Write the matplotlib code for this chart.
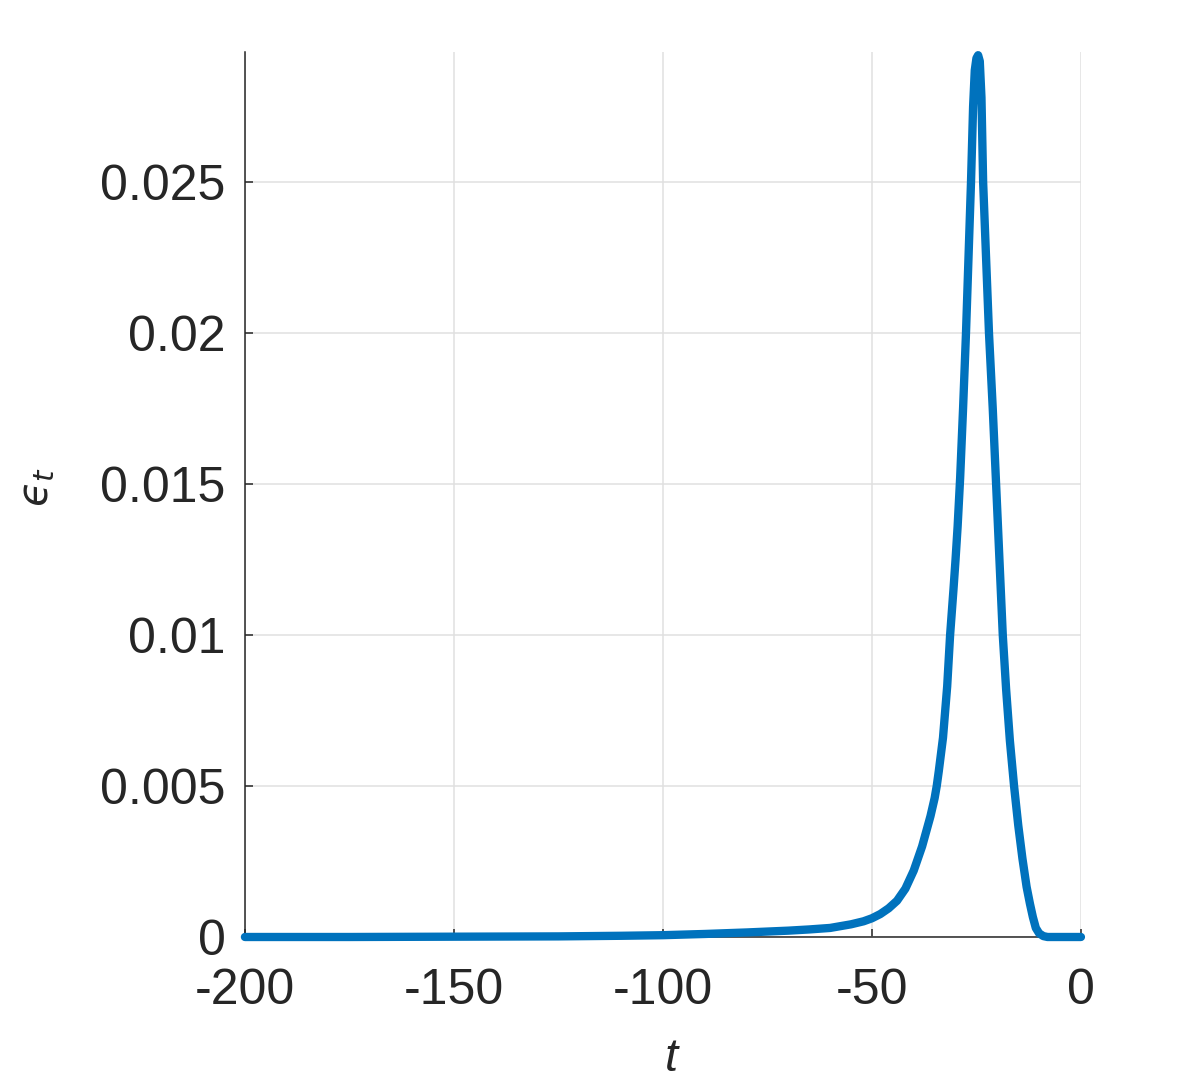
import matplotlib
matplotlib.use('Agg')
import matplotlib.pyplot as plt

# values
t = [-200, -175, -150, -125, -110, -100, -90, -80, -70, -65, -60, -55, -52, -50,
     -48, -46, -44, -42, -41, -40, -39, -38, -37, -36, -35, -34.5, -34, -33, -32,
     -31.3, -30.5, -30, -29.5, -28.9, -28.2, -27.5, -26.9, -26.3, -25.8, -25.4,
     -25.0, -24.6, -24.2, -23.8, -23.4, -22.7, -22.0, -21.1, -20.3, -19.5, -18.7,
     -17.9, -17, -16, -15, -14, -13, -12.2, -11.5, -10.8, -10, -9, -8, -5, 0]
eps = [0, 0, 0.00001, 0.00002, 0.00004, 0.00006, 0.0001, 0.00015, 0.00021, 0.00025,
       0.0003, 0.00042, 0.00052, 0.00062, 0.00076, 0.00095, 0.0012, 0.0016, 0.0019,
       0.0022, 0.0026, 0.0030, 0.0035, 0.0040, 0.0046, 0.0050, 0.0055, 0.0066,
       0.0083, 0.0100, 0.0115, 0.0125, 0.0136, 0.0152, 0.0175, 0.0200, 0.0225,
       0.0250, 0.0275, 0.0287, 0.0291, 0.0292, 0.0290, 0.0278, 0.0250, 0.0225,
       0.0200, 0.0175, 0.0150, 0.0125, 0.0100, 0.0082, 0.0065, 0.0050, 0.0037,
       0.0026, 0.00166, 0.0011, 0.00066, 0.0003, 0.00012, 0.00003, 0, 0, 0]

xticks = [-200, -150, -100, -50, 0]
xticklabels = ['-200', '-150', '-100', '-50', '0']
yticks = [0, 0.005, 0.01, 0.015, 0.02, 0.025]
yticklabels = ['0', '0.005', '0.01', '0.015', '0.02', '0.025']

plt.rcParams['font.family'] = ['Liberation Sans', 'DejaVu Sans']
plt.rcParams['mathtext.fontset'] = 'custom'
plt.rcParams['mathtext.it'] = 'Liberation Sans:italic'
plt.rcParams['mathtext.rm'] = 'Liberation Sans'

fig = plt.figure(figsize=(11.96, 10.87), dpi=100)
ax = fig.add_axes([0.2048, 0.138, 0.699, 0.814])

ax.plot(t, eps, color='#0072BD', lw=6, solid_capstyle='round',
        solid_joinstyle='round', clip_on=False, zorder=3)

ax.set_xlim(-200, 0)
ax.set_ylim(0, 0.0293)
ax.set_xticks(xticks)
ax.set_xticklabels(xticklabels)
ax.set_yticks(yticks)
ax.set_yticklabels(yticklabels)

ax.grid(True, color='#e0e0e0', lw=1.1)
ax.set_axisbelow(True)
for s in ['top', 'right']:
    ax.spines[s].set_visible(False)
for s in ['left', 'bottom']:
    ax.spines[s].set_color('#262626')
    ax.spines[s].set_linewidth(1.1)

ax.tick_params(direction='in', length=6, width=1.1, colors='#262626', labelsize=36)
ax.tick_params(axis='x', pad=22)
ax.tick_params(axis='y', pad=14)

ax.set_xlabel('$t$', fontsize=34, color='#262626')
ax.xaxis.set_label_coords(0.511, -0.113)
ax.set_ylabel('$\u03f5_t$', fontsize=30, color='#262626', math_fontfamily='dejavusans')
ax.yaxis.set_label_coords(-0.225, 0.508)

fig.savefig('out.png', dpi=100)
